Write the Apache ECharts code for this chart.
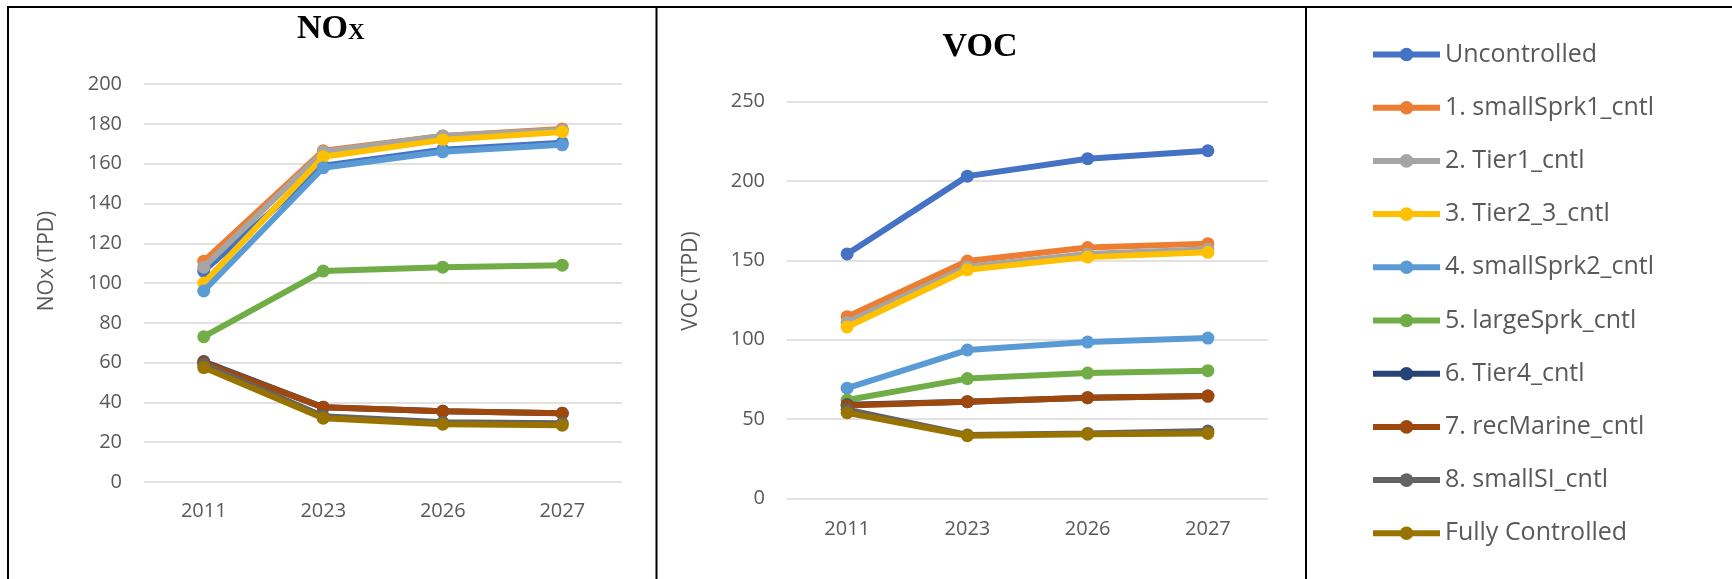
<!DOCTYPE html>
<html>
<head>
<meta charset="utf-8">
<script src="https://cdn.jsdelivr.net/npm/echarts@6/dist/echarts.min.js"></script>
<style>
  html, body { margin: 0; padding: 0; background: #ffffff; }
  #chart { width: 1732px; height: 579px; }
</style>
</head>
<body>
<div id="chart"></div>
<script>
// ---- Data ----
const categories = ['2011', '2023', '2026', '2027'];
const seriesNames = ['Uncontrolled', '1. smallSprk1_cntl', '2. Tier1_cntl', '3. Tier2_3_cntl',
  '4. smallSprk2_cntl', '5. largeSprk_cntl', '6. Tier4_cntl', '7. recMarine_cntl',
  '8. smallSI_cntl', 'Fully Controlled'];
const seriesColors = ['#4472C4', '#ED7D31', '#A5A5A5', '#FFC000', '#5B9BD5', '#70AD47',
  '#264478', '#9E480E', '#636363', '#997300'];

// NOx (TPD)
const noxUncontrolled = [106, 159, 167, 170.5];
const noxSmallSprk1 = [111, 166.5, 174, 177.5];
const noxTier1 = [108, 166, 174, 177];
const noxTier2_3 = [100, 163.5, 172, 176];
const noxSmallSprk2 = [96, 158, 166, 169.5];
const noxLargeSprk = [73, 106, 108, 109];
const noxTier4 = [60.5, 37.5, 35.5, 34.5];
const noxRecMarine = [60, 37.5, 35.5, 34.5];
const noxSmallSI = [59, 33, 30, 29.5];
const noxFully = [57.5, 32, 29, 28.5];

// VOC (TPD)
const vocUncontrolled = [154, 203, 214, 219];
const vocSmallSprk1 = [114.5, 149.5, 158, 160.5];
const vocTier1 = [111, 146, 154, 157];
const vocTier2_3 = [108, 144, 152, 155];
const vocSmallSprk2 = [69.5, 93.5, 98.5, 101];
const vocLargeSprk = [62, 75.5, 79, 80.5];
const vocTier4 = [59, 61, 63.5, 64.5];
const vocRecMarine = [58.5, 61, 63.5, 64.5];
const vocSmallSI = [56, 40, 41, 42.5];
const vocFully = [54, 39.5, 40.5, 41];

const noxTicks = { min: 0, max: 200, interval: 20 };
const vocTicks = { min: 0, max: 250, interval: 50 };

const noxData = [noxUncontrolled, noxSmallSprk1, noxTier1, noxTier2_3, noxSmallSprk2,
  noxLargeSprk, noxTier4, noxRecMarine, noxSmallSI, noxFully];
const vocData = [vocUncontrolled, vocSmallSprk1, vocTier1, vocTier2_3, vocSmallSprk2,
  vocLargeSprk, vocTier4, vocRecMarine, vocSmallSI, vocFully];

// ---- Chart ----
const FONT = '"Open Sans", "DejaVu Sans", sans-serif';
const SERIF = '"Liberation Serif", "DejaVu Serif", serif';
const LABEL_COLOR = '#595959';
const GRID_COLOR = '#d9d9d9';

function makeSeries(dataSets, axisIndex) {
  return dataSets.map((d, i) => ({
    name: seriesNames[i],
    type: 'line',
    xAxisIndex: axisIndex,
    yAxisIndex: axisIndex,
    data: d,
    symbol: 'circle',
    symbolSize: 13,
    color: seriesColors[i],
    lineStyle: { width: 6, color: seriesColors[i] },
    itemStyle: { color: seriesColors[i] },
    animation: false,
    z: 2 + i
  }));
}

function xAxisDef(gridIndex, margin) {
  return {
    type: 'category',
    gridIndex: gridIndex,
    data: categories,
    boundaryGap: true,
    axisLine: { show: false },
    axisTick: { show: false },
    axisLabel: { color: LABEL_COLOR, fontSize: 20, fontFamily: FONT, margin: margin }
  };
}

function yAxisDef(gridIndex, ticks) {
  return {
    type: 'value',
    gridIndex: gridIndex,
    min: ticks.min, max: ticks.max, interval: ticks.interval,
    axisLine: { show: false },
    axisTick: { show: false },
    axisLabel: { color: LABEL_COLOR, fontSize: 20, fontFamily: FONT, margin: 22 },
    splitLine: { show: true, lineStyle: { color: GRID_COLOR, width: 1.5 } }
  };
}

const chart = echarts.init(document.getElementById('chart'), null, { renderer: 'canvas' });

const option = {
  backgroundColor: '#ffffff',
  animation: false,
  grid: [
    { left: 144, top: 84.2, width: 478, height: 397.7 },
    { left: 787, top: 101.5, width: 481, height: 397 }
  ],
  xAxis: [xAxisDef(0, 19), xAxisDef(1, 21)],
  yAxis: [yAxisDef(0, noxTicks), yAxisDef(1, vocTicks)],
  legend: {
    orient: 'vertical',
    left: 1370,
    top: 39.5,
    padding: 0,
    itemWidth: 67,
    itemHeight: 17,
    itemGap: 23.2,
    data: seriesNames,
    lineStyle: { width: 6 },
    textStyle: { color: LABEL_COLOR, fontSize: 25, fontFamily: FONT, lineHeight: 30 }
  },
  graphic: [
    // table borders
    { type: 'line', shape: { x1: 7, y1: 7, x2: 1732, y2: 7 }, style: { stroke: '#000', lineWidth: 2 }, silent: true },
    { type: 'line', shape: { x1: 8, y1: 6, x2: 8, y2: 579 }, style: { stroke: '#000', lineWidth: 2 }, silent: true },
    { type: 'line', shape: { x1: 656.5, y1: 6, x2: 656.5, y2: 579 }, style: { stroke: '#000', lineWidth: 2 }, silent: true },
    { type: 'line', shape: { x1: 1306, y1: 6, x2: 1306, y2: 579 }, style: { stroke: '#000', lineWidth: 2 }, silent: true },
    // titles
    {
      type: 'text', x: 297, y: 29.6, silent: true,
      style: { text: 'NO', align: 'left', verticalAlign: 'middle', fontFamily: SERIF, fontWeight: 'bold', fontSize: 34, fill: '#000' }
    },
    {
      type: 'text', x: 348, y: 32.8, silent: true,
      style: { text: 'X', align: 'left', verticalAlign: 'middle', fontFamily: SERIF, fontWeight: 'bold', fontSize: 23, fill: '#000' }
    },
    {
      type: 'text', x: 980, y: 47, silent: true,
      style: { text: 'VOC', align: 'center', verticalAlign: 'middle', fontFamily: SERIF, fontWeight: 'bold', fontSize: 34, fill: '#000' }
    },
    // axis names
    {
      type: 'text', x: 47, y: 261, rotation: Math.PI / 2, silent: true,
      style: { text: 'NOx (TPD)', align: 'center', verticalAlign: 'middle', fontFamily: FONT, fontSize: 21, fill: LABEL_COLOR }
    },
    {
      type: 'text', x: 691, y: 281, rotation: Math.PI / 2, silent: true,
      style: { text: 'VOC (TPD)', align: 'center', verticalAlign: 'middle', fontFamily: FONT, fontSize: 21, fill: LABEL_COLOR }
    }
  ],
  series: makeSeries(noxData, 0).concat(makeSeries(vocData, 1))
};

chart.setOption(option);
</script>
</body>
</html>
